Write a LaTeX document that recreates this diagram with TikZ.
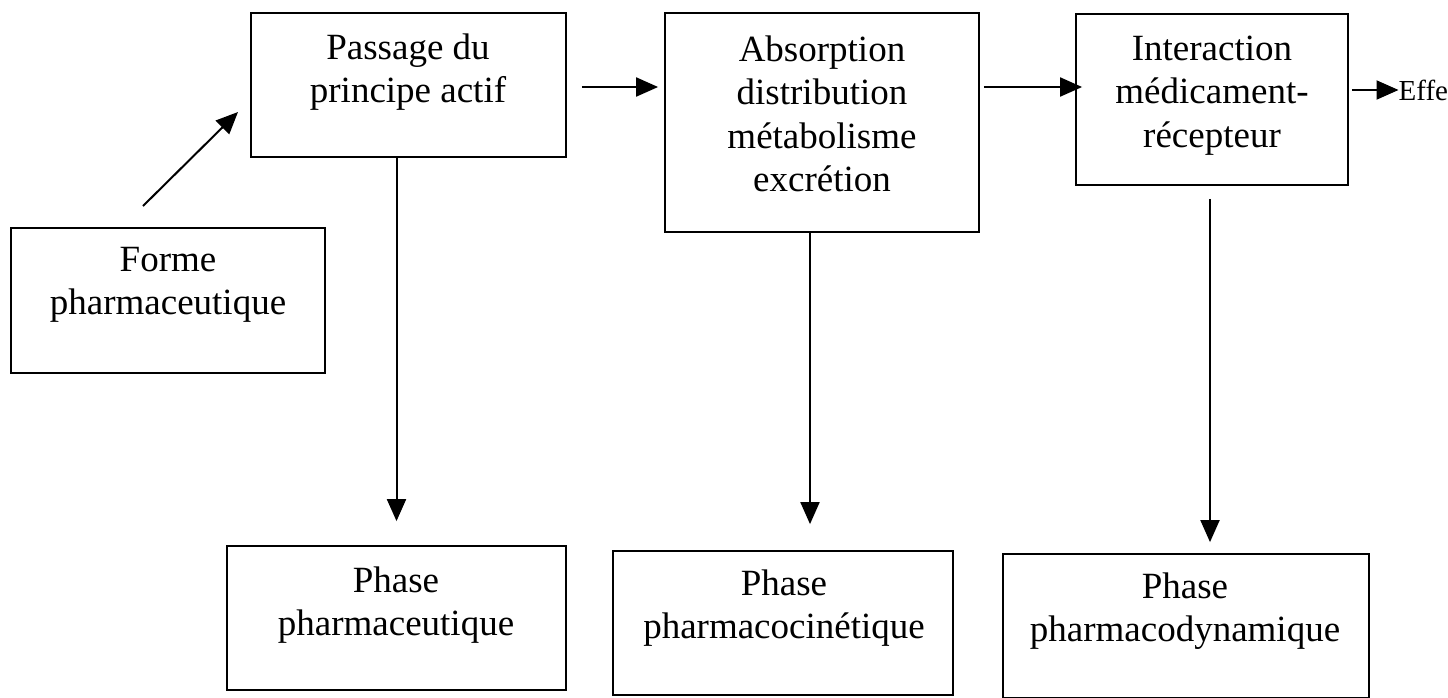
\documentclass[tikz,border=0pt]{standalone}
\usepackage{fontspec}
\setmainfont{Liberation Serif}
\usetikzlibrary{arrows.meta}
\tikzset{
  box/.style={draw=black, line width=1.8pt, rectangle, inner sep=0pt},
  lbl/.style={anchor=north, inner sep=0pt, align=center, text=black, font=\fontsize{37}{43.5}\selectfont},
  small/.style={inner sep=0pt, text=black, font=\fontsize{29}{34}\selectfont},
  arr/.style={draw=black, line width=2pt, -{Triangle[length=22pt,width=19pt]}},
}
\begin{document}
\begin{tikzpicture}[x=1pt,y=-1pt]
\clip (0,0) rectangle (1448,697);
\fill[white] (0,0) rectangle (1448,697);
% boxes
\node[box, minimum width=314pt, minimum height=145pt] (fp) at (168,300.5) {};
\node[box, minimum width=315pt, minimum height=144pt] (pa) at (408.5,85) {};
\node[box, minimum width=314pt, minimum height=219pt] (ab) at (822,122.5) {};
\node[box, minimum width=272pt, minimum height=171pt] (ia) at (1212,99.5) {};
\node[box, minimum width=339pt, minimum height=144pt] (pp) at (396.5,618) {};
\node[box, minimum width=340pt, minimum height=144pt] (pk) at (783,623) {};
\node[box, minimum width=366pt, minimum height=144pt] (pd) at (1186,626) {};
% texts
\node[lbl] (fpt) at (168,271-30.45) {\strut Forme\\pharmaceutique};
\node[lbl] (pat) at (408,59-30.45) {\strut Passage du\\principe actif};
\node[lbl] (abt) at (822,61-30.45) {\strut Absorption\\distribution\\métabolisme\\excrétion};
\node[lbl] (iat) at (1212,60-30.45) {\strut Interaction\\médicament-\\récepteur};
\node[lbl] (ppt) at (396,592-30.45) {\strut Phase\\pharmaceutique};
\node[lbl] (pkt) at (784,595-30.45) {\strut Phase\\pharmacocinétique};
\node[lbl] (pdt) at (1185,598-30.45) {\strut Phase\\pharmacodynamique};
\node[small, anchor=base west] (ef) at (1398.5,100) {Effe};
% helper coordinates
\coordinate (d1) at (143,206);
\coordinate (d2) at (238,112);
\coordinate (r1) at (0,87);
\coordinate (r2) at (0,90);
\coordinate (v2) at (810,0);
\coordinate (v3) at (1210,0);
% connectors
\draw[arr] (d1) -- (d2);
\draw[arr, shorten <=15pt, shorten >=6pt] (pa.east |- r1) -- (ab.west |- r1);
\draw[arr, shorten <=4pt, shorten >=-7pt] (ab.east |- r1) -- (ia.west |- r1);
\draw[arr, shorten <=3pt, shorten >=0pt] (ia.east |- r2) -- (ef.west |- r2);
\draw[arr, shorten >=24pt] (pa.south -| pp.north) -- (pp.north);
\draw[arr, shorten >=26pt] (ab.south -| v2) -- (pk.north -| v2);
\draw[arr, shorten <=13pt, shorten >=11pt] (ia.south -| v3) -- (pd.north -| v3);
\end{tikzpicture}
\end{document}
